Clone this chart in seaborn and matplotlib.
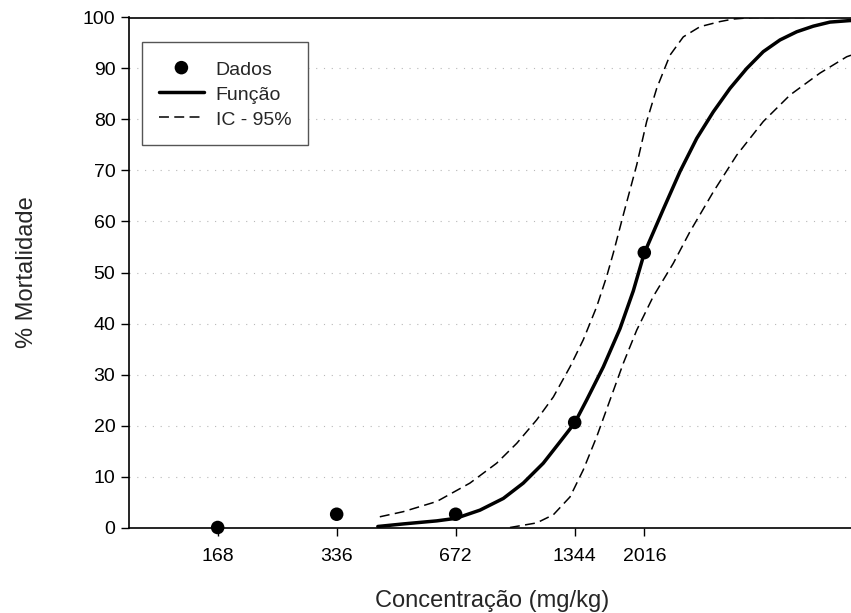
import numpy as np
import pandas as pd
import matplotlib
matplotlib.use("Agg")
import matplotlib.pyplot as plt
import seaborn as sns

# ---- data ----
dose_points = [168, 336, 672, 1344, 2016]
mort_points = [0.0, 2.6, 2.6, 20.6, 53.9]

fit_conc = [427, 495, 602, 673, 774, 887, 996, 1119, 1234, 1344, 1441, 1588,
            1750, 1891, 2016, 2252, 2482, 2736, 3013, 3321, 3660, 4031, 4444,
            4898, 5395, 5946, 6681, 6720]
fit_pct = [0.2, 0.7, 1.3, 1.8, 3.4, 5.7, 8.7, 12.6, 16.8, 20.5, 25.0, 31.5,
           39.0, 46.4, 53.8, 62.4, 69.8, 76.3, 81.5, 86.1, 90.0, 93.3, 95.6,
           97.2, 98.3, 99.1, 99.4, 99.4]

upper_conc = [432, 495, 602, 730, 853, 959, 1077, 1187, 1308, 1413, 1528,
              1619, 1683, 1784, 1929, 2044, 2167, 2341, 2530, 2789, 3133,
              3385, 3800, 6720]
upper_pct = [2.1, 3.1, 5.1, 8.7, 12.6, 16.5, 21.1, 25.6, 31.5, 36.8, 43.3,
             49.2, 53.8, 61.3, 71.1, 79.6, 86.1, 92.6, 96.2, 98.2, 99.2,
             99.7, 100.0, 100.0]

lower_conc = [922, 1077, 1187, 1308, 1413, 1528, 1651, 1784, 1929, 2124,
              2387, 2630, 3013, 3453, 4031, 4711, 5609, 6553, 6720]
lower_pct = [0.0, 0.9, 2.5, 6.0, 11.3, 17.8, 25.0, 32.2, 38.7, 45.3,
             51.8, 58.0, 65.8, 73.0, 79.6, 84.8, 89.1, 92.3, 92.6]

x_ticks = [168, 336, 672, 1344, 2016]
x_tick_labels = ["168", "336", "672", "1344", "2016"]
y_ticks = [0, 10, 20, 30, 40, 50, 60, 70, 80, 90, 100]

# ---- style ----
sns.set_theme(style="white")
plt.rcParams["font.family"] = ["Liberation Sans", "DejaVu Sans"]

W, H = 851, 613
fig = plt.figure(figsize=(W / 100, H / 100), dpi=100)
x0, x1 = 128.6, 851.0
y0, y1 = 527.5, 17.5
ax = fig.add_axes([x0 / W, 1 - y0 / H, (x1 - x0) / W, (y0 - y1) / H])

ax.set_xscale("log")
ax.set_xlim(100, 6720)
ax.set_ylim(0, 100)

# grid (horizontal dotted)
for yv in y_ticks[1:-1]:
    ax.axhline(yv, color="#b8b8b8", lw=0.8, linestyle=(0, (1, 6)), zorder=0)

df_fit = pd.DataFrame({"conc": fit_conc, "pct": fit_pct})
df_up = pd.DataFrame({"conc": upper_conc, "pct": upper_pct})
df_lo = pd.DataFrame({"conc": lower_conc, "pct": lower_pct})
df_pts = pd.DataFrame({"conc": dose_points, "pct": mort_points})

dash = (0, (6.5, 3.5))
sns.lineplot(data=df_fit, x="conc", y="pct", ax=ax, color="black", lw=2.5,
             sort=False, label="Função", zorder=3)
sns.lineplot(data=df_up, x="conc", y="pct", ax=ax, color="black", lw=1.1,
             linestyle=dash, sort=False, label="IC - 95%", zorder=3)
sns.lineplot(data=df_lo, x="conc", y="pct", ax=ax, color="black", lw=1.1,
             linestyle=dash, sort=False, zorder=3)
sns.scatterplot(data=df_pts, x="conc", y="pct", ax=ax, color="black", s=95,
                edgecolor="none", label="Dados", zorder=5, clip_on=False)

# spines
for side in ["left", "bottom", "top"]:
    ax.spines[side].set_visible(True)
    ax.spines[side].set_linewidth(1.2)
    ax.spines[side].set_color("black")
ax.spines["right"].set_visible(False)

ax.set_xticks(x_ticks)
ax.set_xticklabels(x_tick_labels)
ax.xaxis.set_minor_locator(matplotlib.ticker.NullLocator())
ax.set_yticks(y_ticks)
ax.tick_params(axis="both", which="major", direction="out", length=5.5,
               width=1.0, color="black", labelsize=14, labelcolor="black",
               left=True, bottom=True)
ax.tick_params(axis="x", pad=9.5)
ax.tick_params(axis="y", pad=4)

ax.set_xlabel("Concentração (mg/kg)", fontsize=17)
ax.set_ylabel("% Mortalidade", fontsize=17)
ax.xaxis.set_label_coords(0.503, -0.123)
ax.yaxis.set_label_coords(-0.125, 0.5)

# legend order: Dados, Função, IC
handles, labels = ax.get_legend_handles_labels()
order = [labels.index("Dados"), labels.index("Função"), labels.index("IC - 95%")]
leg = ax.legend([handles[i] for i in order], [labels[i] for i in order],
                loc="upper left", bbox_to_anchor=(0.019, 0.952),
                borderaxespad=0, fontsize=14, frameon=True, fancybox=False,
                handlelength=2.3, handleheight=1.1, handletextpad=0.62,
                labelspacing=0.26, borderpad=0.86, markerscale=1.0)
leg.get_frame().set_edgecolor("#555555")
leg.get_frame().set_linewidth(1.0)
leg.get_frame().set_facecolor("white")
leg.get_frame().set_alpha(1.0)

fig.savefig("out.png", dpi=100)
